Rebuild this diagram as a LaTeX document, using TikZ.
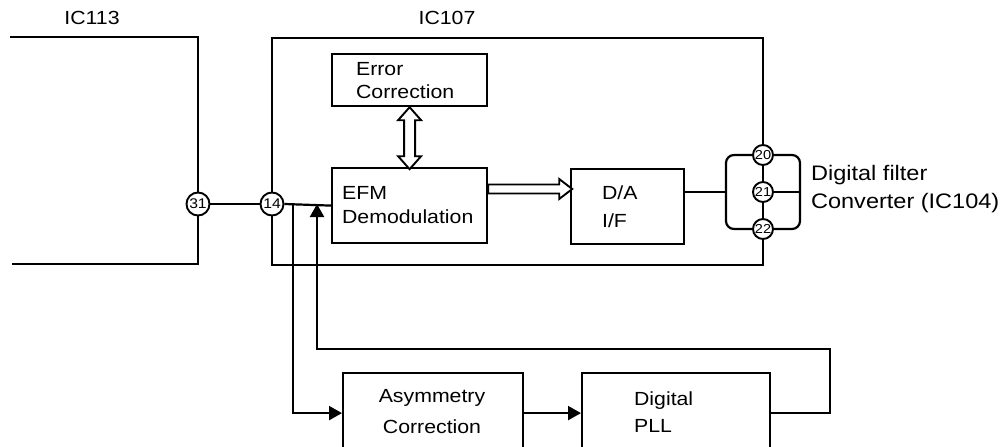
\documentclass[tikz,border=0pt]{standalone}
\usepackage{fontspec}
\setmainfont{Liberation Sans}[FakeStretch=1.12]
\usetikzlibrary{arrows.meta,calc}
\begin{document}
\begin{tikzpicture}[x=1pt,y=-1pt,line width=2.2pt,
  box/.style={draw,rectangle,inner sep=0pt,anchor=north west},
  pin/.style={draw,circle,fill=white,inner sep=0pt,minimum size=23pt,line width=1.9pt,font=\fontsize{14}{14}\selectfont},
  smallpin/.style={pin,minimum size=20pt,font=\fontsize{13}{13}\selectfont},
  lbl/.style={inner sep=0pt,align=left,anchor=west},
  hollow/.style={draw,line width=1.9pt,fill=white,line join=miter},
  tip/.style={-{Triangle[length=13pt,width=14pt]}}]
\useasboundingbox (0,0) rectangle (1007,447);
\clip (0,0) rectangle (1007,447);

% labels of the ICs
\node[inner sep=0pt,font=\fontsize{19}{19}\selectfont] (l113) at (92,18) {IC113};
\node[inner sep=0pt,font=\fontsize{19}{19}\selectfont] (l107) at (447,18) {IC107};

% pins
\node[pin] (p31) at (198,204) {31};
\node[pin] (p14) at (272,204) {14};
\node[smallpin] (p20) at (763,155) {20};
\node[smallpin] (p21) at (763,192) {21};
\node[smallpin] (p22) at (763,229) {22};

% blocks
\node[box,minimum width=155pt,minimum height=52pt] (err) at (331,53) {};
\node[box,minimum width=155pt,minimum height=75pt] (efm) at (331,167) {};
\node[box,minimum width=113pt,minimum height=75pt] (da) at (570,168) {};
\node[box,minimum width=180pt,minimum height=80pt] (asym) at (342,372) {};
\node[box,minimum width=188pt,minimum height=80pt] (pll) at (581,372) {};

% block texts
\node[lbl,font=\fontsize{19}{23}\selectfont] (errT) at (355,81) {Error\\Correction};
\node[lbl,font=\fontsize{19}{24}\selectfont] (efmT) at (341,205) {EFM\\Demodulation};
\node[lbl,font=\fontsize{19}{28}\selectfont] (daT) at (601,207) {D/A\\I/F};
\node[inner sep=0pt,align=center,font=\fontsize{19}{31}\selectfont] (asymT) at (432,412) {Asymmetry\\Correction};
\node[lbl,font=\fontsize{19}{27}\selectfont] (pllT) at (633,412) {Digital\\PLL};
\node[lbl,font=\fontsize{21}{28}\selectfont] (outT) at (810,189) {Digital filter\\Converter (IC104)};

% IC113 outline
\draw (10,37) -| (p31.north);
\draw (p31.south) |- (12,264);

% IC107 outline
\draw (p20.north) |- (272,38) -- (p14.north);
\draw (p14.south) |- (763,265) -- (p22.south);
\draw (p20) -- (p21);
\draw (p21) -- (p22);

% output bracket
\coordinate (bl) at (726,192);
\coordinate (br) at (800,192);
\draw[rounded corners=8pt] (p20.west) -| (bl) |- (p22.west);
\draw[rounded corners=8pt] (p20.east) -| (br) |- (p22.east);
\draw (p21.east) -- (br);
\draw (da.east |- bl) -- (bl);

% signal path
\draw (p31.east) -- (p14.west);
\draw (p14.east) -- (efm.west);
\coordinate (j1) at (293,204);
\coordinate (j2) at (317,204);
\coordinate (c1) at (830,349);
\draw[tip] (j1) |- (asym.west);
\draw[tip] (asym.east) -- (pll.west);
\draw[tip] (pll.east) -| (c1) -| (j2);

% hollow arrows
\draw[hollow] (err.south) -- ++(11.5,13) -- ++(-6,0) -- ++(0,36) -- ++(6,0)
  -- ++(-11.5,13) -- ++(-11.5,-13) -- ++(6,0) -- ++(0,-36) -- ++(-6,0) -- cycle;
\draw[hollow] ($(efm.north east)+(0,17.5)$) -- ++(71,0) -- ++(0,-5.5) -- ++(13,10)
  -- ++(-13,10) -- ++(0,-5.5) -- ++(-71,0) -- cycle;
\end{tikzpicture}
\end{document}
